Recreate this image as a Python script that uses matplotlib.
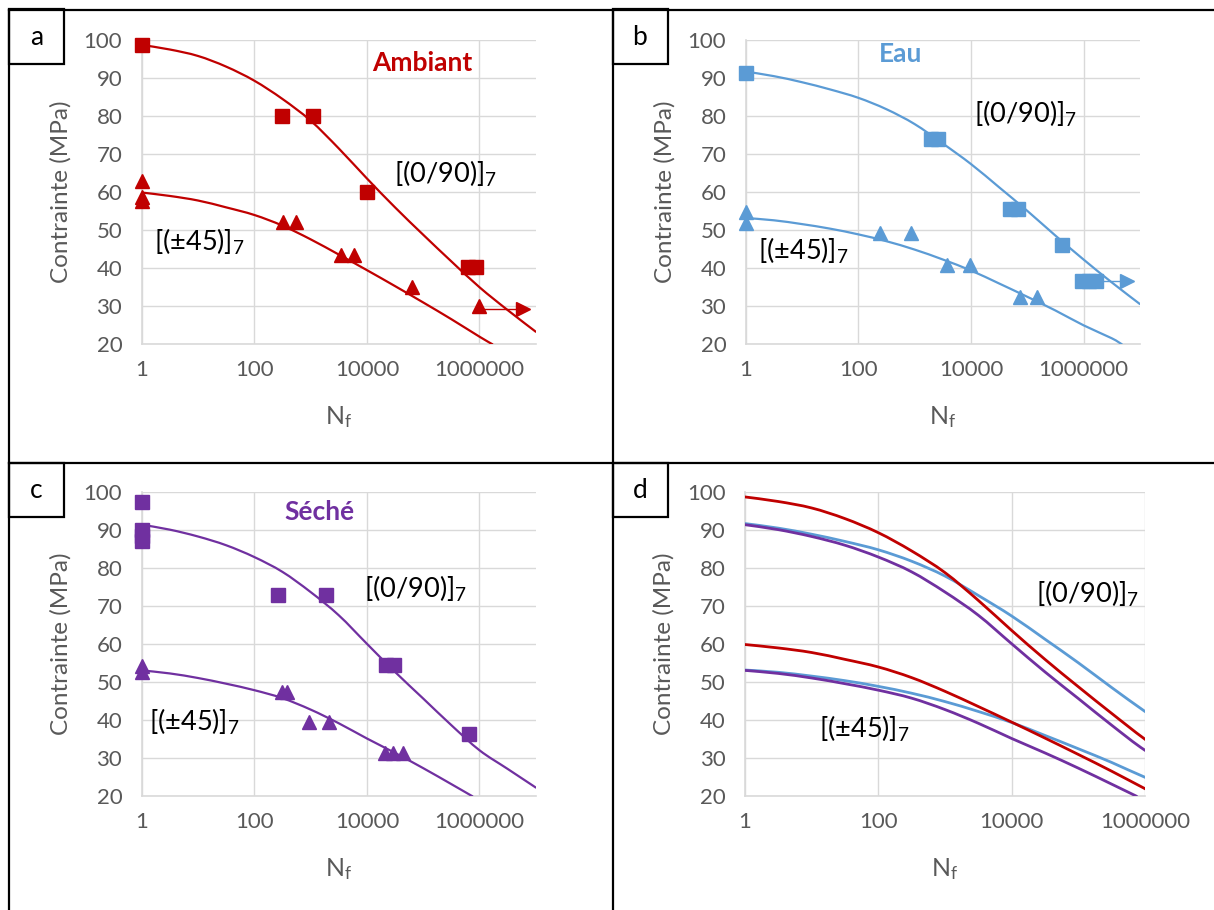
import matplotlib
matplotlib.use("Agg")
import numpy as np
import matplotlib.pyplot as plt
from matplotlib.lines import Line2D
from matplotlib.patches import Rectangle, PathPatch
from matplotlib.path import Path

plt.rcParams['font.family'] = ['Lato', 'DejaVu Sans']
plt.rcParams['mathtext.fontset'] = 'custom'
plt.rcParams['mathtext.rm'] = 'Lato'
plt.rcParams['mathtext.it'] = 'Lato:italic'

# --- data ---
N_grid = [1, 3.16, 10, 31.6, 100, 316, 1e3, 3.16e3, 1e4, 3.16e4, 1e5, 3.16e5, 1e6, 3.16e6, 1e7]

# fitted curves (Contrainte in MPa at N_grid)
red_090 = [98.7, 97.5, 95.8, 93.0, 89.3, 84.5, 78.8, 71.5, 63.6, 56.0, 48.8, 41.8, 35.0, 29.0, 23.3]
red_45_N = N_grid[:13] + [1.7e6]
red_45 = [59.9, 59.0, 57.8, 56.0, 54.0, 51.2, 47.6, 43.6, 39.5, 35.3, 31.0, 26.6, 22.0, 20.0]
blue_090 = [91.7, 90.5, 88.9, 87.0, 84.8, 81.8, 77.9, 72.8, 67.4, 61.3, 55.1, 48.6, 42.3, 36.3, 30.6]
blue_45_N = N_grid[:14] + [4.8e6]
blue_45 = [53.2, 52.6, 51.6, 50.4, 48.9, 47.1, 44.9, 42.3, 39.4, 36.0, 32.5, 28.9, 25.0, 21.6, 20.0]
purple_090 = [91.4, 90.1, 88.3, 86.0, 82.9, 79.0, 73.7, 67.6, 60.1, 52.7, 45.7, 38.7, 32.1, 27.2, 22.3]
purple_45_N = N_grid[:12] + [7.5e5]
purple_45 = [53.1, 52.3, 51.1, 49.6, 47.9, 45.8, 42.8, 39.2, 35.2, 31.4, 27.4, 23.2, 20.0]

# experimental points
a_sq_N = [1, 310, 1120, 1.0e4, 6.2e5, 8.5e5]
a_sq_S = [98.7, 80, 80, 60, 40.2, 40.2]
a_tr_N = [1, 1, 1, 330, 550, 3500, 5800, 6.3e4, 9.6e5]
a_tr_S = [62.8, 58.8, 57.8, 52.2, 52.2, 43.4, 43.4, 35.0, 30.1]
a_run_N = [9.6e5, 6e6]
a_run_S = [29.3, 29.3]

b_sq_N = [1, 1950, 2570, 5.0e4, 7.0e4, 4.1e5, 9.5e5, 1.26e6, 1.66e6]
b_sq_S = [91.4, 74, 74, 55.6, 55.6, 46.1, 36.7, 36.7, 36.7]
b_tr_N = [1, 1, 240, 850, 3700, 9600, 7.4e4, 1.5e5]
b_tr_S = [54.9, 51.8, 49.2, 49.2, 40.8, 40.8, 32.5, 32.5]
b_run_N = [1.66e6, 6e6]
b_run_S = [36.7, 36.7]

c_sq_N = [1, 1, 1, 1, 260, 1900, 2.2e4, 3.0e4, 6.6e5]
c_sq_S = [97.4, 90, 88.5, 87, 72.8, 72.8, 54.6, 54.6, 36.3]
c_tr_N = [1, 1, 310, 380, 940, 2140, 2.1e4, 2.9e4, 4.4e4]
c_tr_S = [54.2, 52.6, 47.4, 47.4, 39.5, 39.5, 31.5, 31.5, 31.5]

RED = '#C00000'
BLUE = '#5B9BD5'
PURPLE = '#7030A0'
GREY = '#595959'
GRID = '#D9D9D9'

W, H = 1214, 910
fig = plt.figure(figsize=(W / 100, H / 100), dpi=100)
fig.patch.set_facecolor('white')


def fx(x):
    return x / W


def fy(y):
    return 1 - y / H


def make_axes(l, t, r, b, xmax):
    ax = fig.add_axes([fx(l), fy(b), (r - l) / W, (b - t) / H])
    ax.set_xscale('log')
    ax.set_xlim(1, xmax)
    ax.set_ylim(20, 100)
    ax.set_xticks([1, 100, 1e4, 1e6])
    ax.set_xticklabels(['1', '100', '10000', '1000000'])
    ax.xaxis.set_minor_locator(plt.NullLocator())
    ax.set_yticks(range(20, 101, 10))
    ax.tick_params(length=0, labelsize=16, labelcolor=GREY)
    ax.tick_params(axis='y', pad=14)
    ax.tick_params(axis='x', pad=11)
    ax.grid(True, color=GRID, lw=1)
    ax.set_axisbelow(True)
    for s in ['top', 'right']:
        ax.spines[s].set_visible(False)
    for s in ['left', 'bottom']:
        ax.spines[s].set_color(GRID)
        ax.spines[s].set_linewidth(1.2)
    cx = (l + r) / 2
    fig.text(fx(cx), fy(b + 73), r'N$_\mathrm{f}$', ha='center', va='center',
             fontsize=18, color=GREY)
    fig.text(fx(l - 81), fy((t + b) / 2), 'Contrainte (MPa)', rotation=90,
             ha='center', va='center', fontsize=17.5, color=GREY)
    return ax


def curve(ax, N, S, color, lw):
    # smoothed line through the points (like Excel's smoothed line), in log-x space
    x = np.log10(N)
    y = np.asarray(S, dtype=float)
    verts = [(x[0], y[0])]
    codes = [Path.MOVETO]
    n = len(x)
    for i in range(n - 1):
        x0, y0 = (x[i - 1], y[i - 1]) if i > 0 else (x[i], y[i])
        x3, y3 = (x[i + 2], y[i + 2]) if i + 2 < n else (x[i + 1], y[i + 1])
        c1 = (x[i] + (x[i + 1] - x0) / 6, y[i] + (y[i + 1] - y0) / 6)
        c2 = (x[i + 1] - (x3 - x[i]) / 6, y[i + 1] - (y3 - y[i]) / 6)
        verts += [c1, c2, (x[i + 1], y[i + 1])]
        codes += [Path.CURVE4] * 3
    verts = [(10 ** vx, vy) for vx, vy in verts]
    ax.add_patch(PathPatch(Path(verts, codes), fill=False, ec=color, lw=lw,
                           capstyle='round', joinstyle='round', zorder=3))


def points(ax, N, S, marker, color, size):
    ax.plot(N, S, ls='none', marker=marker, ms=size, color=color,
            mec=color, clip_on=False, zorder=4)


def runout(ax, N, S, color):
    ax.plot(N, S, color=color, lw=1, marker='>', ms=10.5, markevery=[1],
            clip_on=False, zorder=4)


def label(x, y, txt):
    fig.text(fx(x), fy(y), txt, ha='left', va='center', fontsize=19.5, color='black')


def title(x, y, txt, color):
    fig.text(fx(x), fy(y), txt, ha='center', va='center', fontsize=19,
             fontweight='bold', color=color)


# --- panel a : Ambiant ---
ax = make_axes(141.7, 40, 535.8, 344.3, 1e7)
curve(ax, N_grid, red_090, RED, 1.6)
curve(ax, red_45_N, red_45, RED, 1.6)
points(ax, a_sq_N, a_sq_S, 's', RED, 10.5)
points(ax, a_tr_N, a_tr_S, '^', RED, 10.5)
runout(ax, a_run_N, a_run_S, RED)
title(422, 63, 'Ambiant', RED)
label(394, 174, r'[(0/90)]$_7$')
label(154, 242, r'[(±45)]$_7$')

# --- panel b : Eau ---
ax = make_axes(745.7, 40, 1139.8, 344.3, 1e7)
curve(ax, N_grid, blue_090, BLUE, 1.6)
curve(ax, blue_45_N, blue_45, BLUE, 1.6)
points(ax, b_sq_N, b_sq_S, 's', BLUE, 10.5)
points(ax, b_tr_N, b_tr_S, '^', BLUE, 10)
runout(ax, b_run_N, b_run_S, BLUE)
title(901, 54, 'Eau', BLUE)
label(974, 114, r'[(0/90)]$_7$')
label(758, 251, r'[(±45)]$_7$')

# --- panel c : Séché ---
ax = make_axes(141.7, 492, 535.8, 796.3, 1e7)
curve(ax, N_grid, purple_090, PURPLE, 1.6)
curve(ax, purple_45_N, purple_45, PURPLE, 1.6)
points(ax, c_sq_N, c_sq_S, 's', PURPLE, 10)
points(ax, c_tr_N, c_tr_S, '^', PURPLE, 10)
title(319, 512, 'Séché', PURPLE)
label(364, 589, r'[(0/90)]$_7$')
label(149, 722, r'[(±45)]$_7$')

# --- panel d : all fitted curves ---
ax = make_axes(745, 492, 1145, 796.3, 1e6)
curve(ax, N_grid, blue_090, BLUE, 2)
curve(ax, blue_45_N, blue_45, BLUE, 2)
curve(ax, N_grid, purple_090, PURPLE, 2)
curve(ax, purple_45_N, purple_45, PURPLE, 2)
curve(ax, N_grid, red_090, RED, 2)
curve(ax, red_45_N, red_45, RED, 2)
label(1036, 594, r'[(0/90)]$_7$')
label(819, 729, r'[(±45)]$_7$')

# --- panel frames and letter boxes ---
frame_kw = dict(color='black', lw=1.6, transform=fig.transFigure, zorder=10)
fig.add_artist(Line2D([fx(9), fx(W)], [fy(9.5), fy(9.5)], **frame_kw))
fig.add_artist(Line2D([fx(9), fx(9)], [fy(9.5), fy(H)], **frame_kw))
fig.add_artist(Line2D([fx(612.5), fx(612.5)], [fy(9.5), fy(H)], **frame_kw))
fig.add_artist(Line2D([fx(9), fx(W)], [fy(462.5), fy(462.5)], **frame_kw))

for letter, x0, y0 in [('a', 9, 9.5), ('b', 612.5, 9.5), ('c', 9, 462.5), ('d', 612.5, 462.5)]:
    fig.add_artist(Rectangle((fx(x0), fy(y0 + 54)), 55 / W, 54 / H, fill=False,
                             ec='black', lw=1.6, transform=fig.transFigure, zorder=10))
    fig.text(fx(x0 + 27.5), fy(y0 + 28), letter, ha='center', va='center',
             fontsize=19, color='black')

fig.savefig('out.png', dpi=100)
